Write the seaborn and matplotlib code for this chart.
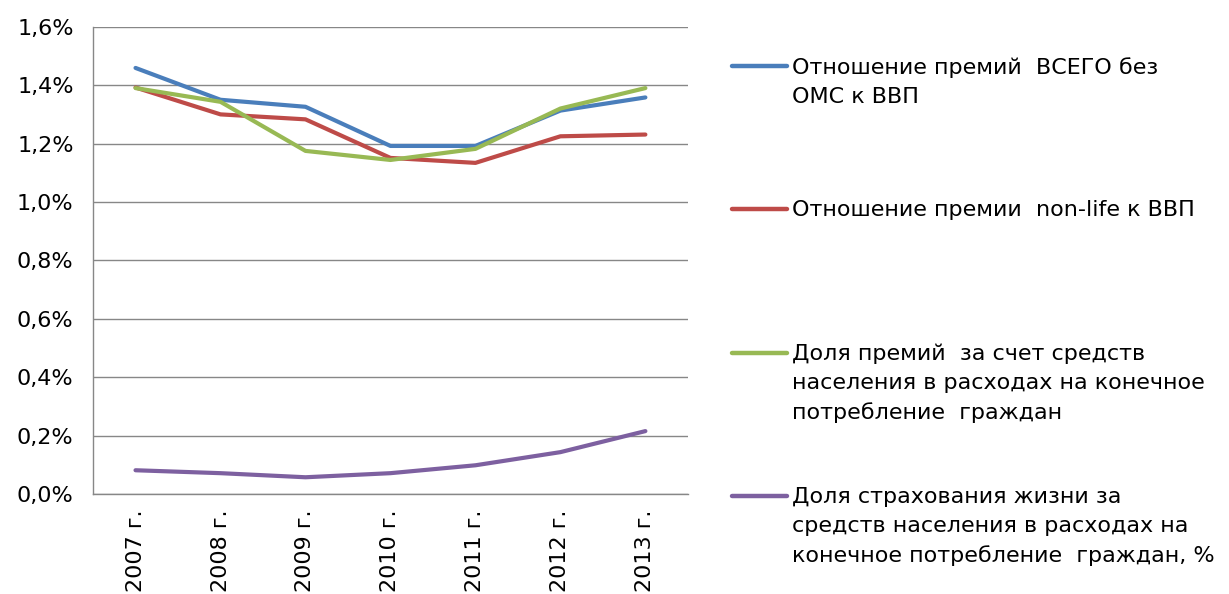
import pandas as pd
import matplotlib
matplotlib.use("Agg")
import matplotlib.pyplot as plt
from matplotlib.ticker import FuncFormatter, FixedLocator
from matplotlib.lines import Line2D
import seaborn as sns

years = ["2007 г.", "2008 г.", "2009 г.", "2010 г.", "2011 г.", "2012 г.", "2013 г."]

names = [
    "Отношение премий  ВСЕГО без\nОМС к ВВП",
    "Отношение премии  non-life к ВВП",
    "Доля премий  за счет средств\nнаселения в расходах на конечное\nпотребление  граждан",
    "Доля страхования жизни за\nсредств населения в расходах на\nконечное потребление  граждан, %",
]
total_gdp = [1.459, 1.350, 1.326, 1.192, 1.192, 1.313, 1.358]
nonlife_gdp = [1.392, 1.300, 1.283, 1.151, 1.134, 1.225, 1.231]
share_prem = [1.390, 1.343, 1.175, 1.144, 1.182, 1.320, 1.390]
share_life = [0.082, 0.072, 0.058, 0.072, 0.099, 0.144, 0.216]
colors = ["#4A7EBB", "#BE4B48", "#98B954", "#7D60A0"]

rows = []
for name, vals in zip(names, [total_gdp, nonlife_gdp, share_prem, share_life]):
    for y, v in zip(years, vals):
        rows.append({"year": y, "value": v, "series": name})
df = pd.DataFrame(rows)

sns.set_style("white")
plt.rcParams["font.family"] = ["DejaVu Sans"]
plt.rcParams["text.color"] = "black"
plt.rcParams["xtick.labelcolor"] = "black"
plt.rcParams["ytick.labelcolor"] = "black"

fig = plt.figure(figsize=(12.29, 5.94), dpi=100)
ax = fig.add_axes([0.0757, 0.168, 0.484, 0.787])

sns.lineplot(data=df, x="year", y="value", hue="series", palette=colors,
             linewidth=3, sort=False, ax=ax, legend=False)

ax.set_xlim(-0.5, 6.5)
ax.set_ylim(0, 1.6)
ax.set_yticks([0, 0.2, 0.4, 0.6, 0.8, 1.0, 1.2, 1.4, 1.6])
ax.yaxis.set_major_formatter(FuncFormatter(lambda v, p: f"{v:.1f}%".replace(".", ",")))
ax.grid(axis="y", color="#878787", linewidth=1)
ax.set_axisbelow(True)

ax.set_xticks(range(len(years)))
ax.set_xticklabels(years, rotation=90)
ax.xaxis.set_minor_locator(FixedLocator([i - 0.5 for i in range(len(years) + 1)]))
ax.tick_params(axis="x", which="major", length=0, labelsize=16, pad=11, labelcolor="black")
ax.tick_params(axis="x", which="minor", length=5, color="#878787", width=1, direction="out")
ax.tick_params(axis="y", length=7, color="#878787", width=1, direction="out",
               labelsize=16, pad=7, labelcolor="black")
ax.set_xlabel("")
ax.set_ylabel("")

for s in ["top", "right"]:
    ax.spines[s].set_visible(False)
for s in ["left", "bottom"]:
    ax.spines[s].set_color("#878787")
    ax.spines[s].set_linewidth(1)

# legend drawn like Excel: marker aligned with first text line
H = 594.0
W = 1229.0
legend_y = [66, 209, 353, 496]
for line, name, yp in zip(ax.lines, names, legend_y):
    fy = 1 - yp / H
    fig.add_artist(Line2D([732 / W, 787 / W], [fy, fy], color=line.get_color(),
                          linewidth=3.2, transform=fig.transFigure))
    fig.text(792 / W, 1 - (yp - 9) / H, name, fontsize=16, va="top",
             ha="left", linespacing=1.55, color="black")

plt.savefig("out.png", dpi=100)
